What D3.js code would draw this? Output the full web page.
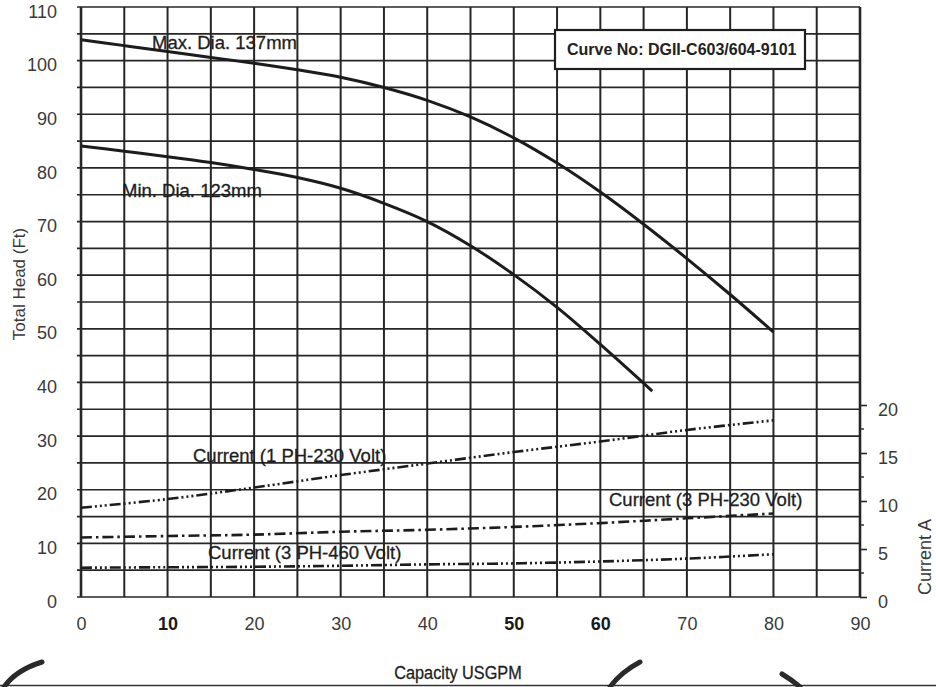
<!DOCTYPE html>
<html>
<head>
<meta charset="utf-8">
<script src="https://cdn.jsdelivr.net/npm/d3@7"></script>
<style>
  html, body { margin: 0; padding: 0; background: #fff; }
  svg { display: block; font-family: "Liberation Sans", Arial, Helvetica, sans-serif; }
</style>
</head>
<body>
<svg id="chart" width="936" height="687"></svg>
<script>
// Pump performance: head curves (left axis, ft) and motor current (right axis, A)
const capacityTicks = [0, 10, 20, 30, 40, 50, 60, 70, 80, 90];
const headTicks = [0, 10, 20, 30, 40, 50, 60, 70, 80, 90, 100, 110];
const currentTicks = [0, 5, 10, 15, 20];

// Impeller 137 mm
const maxDiaFlow = [0, 5, 10, 15, 20, 25, 30, 35, 40, 45, 50, 55, 60, 65, 70, 75, 80];
const maxDiaHead = [103.9, 102.8, 101.7, 100.6, 99.5, 98.3, 96.9, 95.0, 92.6, 89.5, 85.6, 80.9, 75.5, 69.5, 63.1, 56.4, 49.4];

// Impeller 123 mm
const minDiaFlow = [0, 5, 10, 15, 20, 25, 30, 35, 40, 45, 50, 55, 60, 66];
const minDiaHead = [84.1, 83.1, 82.1, 81.0, 79.7, 78.2, 76.2, 73.4, 70.0, 65.5, 60.1, 54.0, 47.1, 38.4];

// Motor current readings
const currentFlow = [0, 10, 20, 30, 40, 50, 60, 70, 80];
const current1ph230 = [9.3, 10.2, 11.4, 12.7, 13.9, 15.1, 16.2, 17.4, 18.4];
const current3ph230 = [6.2, 6.35, 6.5, 6.8, 7.0, 7.3, 7.7, 8.2, 8.7];
const current3ph460 = [3.05, 3.1, 3.15, 3.25, 3.4, 3.5, 3.7, 4.0, 4.45];

const curveLabels = ["Max. Dia. 137mm", "Min. Dia. 123mm"];
const currentLabels = ["Current (1 PH-230 Volt)", "Current (3 PH-230 Volt)", "Current (3 PH-460 Volt)"];
const curveNumber = "Curve No: DGII-C603/604-9101";

const svg = d3.select("#chart");
const ink = "#262626";
const textInk = "#3a3a3a";

const x = d3.scaleLinear().domain([0, 90]).range([81, 860]);
const y = d3.scaleLinear().domain([0, 110]).range([597, 7]);
const yA = d3.scaleLinear().domain([0, 20]).range([597, 405]);

// Grid every 5 units
const grid = svg.append("g").attr("stroke", ink);
grid.selectAll("line.h")
  .data(d3.range(0, 111, 5))
  .join("line")
  .attr("class", "h")
  .attr("x1", x(0) - 4).attr("x2", x(90))
  .attr("y1", d => y(d)).attr("y2", d => y(d))
  .attr("stroke-width", 1.7);
grid.selectAll("line.v")
  .data(d3.range(0, 91, 5))
  .join("line")
  .attr("class", "v")
  .attr("x1", d => x(d)).attr("x2", d => x(d))
  .attr("y1", y(110)).attr("y2", y(0))
  .attr("stroke-width", d => (d === 0 || d === 90) ? 2.6 : 2);

// Left axis labels (sit a little below their grid lines)
const leftAxis = svg.append("g")
  .attr("transform", `translate(${x(0)},0)`)
  .call(d3.axisLeft(y).tickValues(headTicks).tickSize(0).tickPadding(24));
leftAxis.select(".domain").remove();
leftAxis.selectAll("text")
  .attr("font-size", 18).attr("fill", textInk).attr("font-family", null)
  .attr("dy", "0.56em");

// Bottom axis labels
const boldTicks = [10, 50, 60];
const bottomAxis = svg.append("g")
  .attr("transform", `translate(0,${y(0)})`)
  .call(d3.axisBottom(x).tickValues(capacityTicks).tickSize(0).tickPadding(20));
bottomAxis.select(".domain").remove();
bottomAxis.selectAll("text")
  .attr("font-size", 18).attr("fill", d => boldTicks.includes(d) ? "#1a1a1a" : textInk)
  .attr("font-weight", d => boldTicks.includes(d) ? "bold" : null)
  .attr("font-family", null);

// Right axis (current)
const rightAxis = svg.append("g")
  .attr("transform", `translate(${x(90)},0)`)
  .call(d3.axisRight(yA).tickValues(currentTicks).tickSize(7).tickPadding(11));
rightAxis.select(".domain").remove();
rightAxis.selectAll("line").attr("stroke", ink).attr("stroke-width", 1.6);
rightAxis.selectAll("text")
  .attr("font-size", 18).attr("fill", textInk).attr("font-family", null)
  .attr("dy", "0.6em");
svg.append("g").selectAll("line")
  .data([2.5, 7.5, 12.5, 17.5])
  .join("line")
  .attr("x1", x(90)).attr("x2", x(90) + 4)
  .attr("y1", d => yA(d)).attr("y2", d => yA(d))
  .attr("stroke", ink).attr("stroke-width", 1.4);

// Axis titles
svg.append("text")
  .attr("transform", `translate(25,${(y(110) + y(0)) / 2 - 18}) rotate(-90)`)
  .attr("text-anchor", "middle")
  .attr("font-size", 17).attr("fill", textInk)
  .text("Total Head (Ft)");
svg.append("text")
  .attr("transform", `translate(931,${yA(10) + 56}) rotate(-90)`)
  .attr("text-anchor", "middle")
  .attr("font-size", 18).attr("fill", textInk)
  .text("Current A");
svg.append("text")
  .attr("x", 458).attr("y", 679)
  .attr("text-anchor", "middle")
  .attr("font-size", 18.5).attr("fill", "#1e1e1e")
  .attr("stroke", "#1e1e1e").attr("stroke-width", 0.3)
  .attr("transform", "translate(458,0) scale(0.88,1) translate(-458,0)")
  .text("Capacity USGPM");

// Head curves
const headLine = d3.line()
  .x(d => x(d[0])).y(d => y(d[1]))
  .curve(d3.curveCatmullRom.alpha(0.5));
const headGroup = svg.append("g")
  .attr("fill", "none").attr("stroke", "#1c1c1c").attr("stroke-width", 3);
headGroup.append("path").datum(d3.zip(maxDiaFlow, maxDiaHead)).attr("d", headLine);
headGroup.append("path").datum(d3.zip(minDiaFlow, minDiaHead)).attr("d", headLine);

// Current curves
const ampLine = d3.line()
  .x(d => x(d[0])).y(d => yA(d[1]))
  .curve(d3.curveCatmullRom.alpha(0.5));
const currentSeries = [
  { values: current1ph230, dash: "11,3,2,3,2,3,2,3" },
  { values: current3ph230, dash: "11,4,2.5,4" },
  { values: current3ph460, dash: "11,3,2,3,2,3,2,3" }
];
svg.append("g").selectAll("path")
  .data(currentSeries)
  .join("path")
  .attr("d", s => ampLine(d3.zip(currentFlow, s.values)))
  .attr("fill", "none").attr("stroke", "#1c1c1c").attr("stroke-width", 2.6)
  .attr("stroke-dasharray", s => s.dash);

// Curve annotations
const annot = svg.append("g").attr("font-size", 18.5).attr("fill", "#1e1e1e")
  .attr("stroke", "#1e1e1e").attr("stroke-width", 0.3);
annot.append("text").attr("x", 152).attr("y", 49).text(curveLabels[0]);
annot.append("text").attr("x", 122).attr("y", 197).text(curveLabels[1]);
annot.append("text").attr("x", 193).attr("y", 462).text(currentLabels[0]);
annot.append("text").attr("x", 609).attr("y", 506).text(currentLabels[1]);
annot.append("text").attr("x", 208).attr("y", 559).text(currentLabels[2]);

// Curve number box
svg.append("rect")
  .attr("x", 555).attr("y", 30).attr("width", 250).attr("height", 39)
  .attr("fill", "#fff").attr("stroke", "#1e1e1e").attr("stroke-width", 2.2);
svg.append("text")
  .attr("x", 567).attr("y", 55)
  .attr("font-size", 16).attr("font-weight", "bold").attr("fill", "#222")
  .text(curveNumber);

// Sheet edge line and pen marks along the bottom margin
svg.append("line")
  .attr("x1", 0).attr("x2", 936).attr("y1", 685.5).attr("y2", 685.5)
  .attr("stroke", "#333").attr("stroke-width", 1.6);
const marks = svg.append("g")
  .attr("fill", "none").attr("stroke", "#2a2a2a").attr("stroke-linecap", "round");
marks.append("path").attr("d", "M4,687 Q16,670 42,662").attr("stroke-width", 5);
marks.append("path").attr("d", "M610,687 Q621,672 640,662").attr("stroke-width", 5);
marks.append("path").attr("d", "M782,674 Q792,680 800,687").attr("stroke-width", 5);
</script>
</body>
</html>
